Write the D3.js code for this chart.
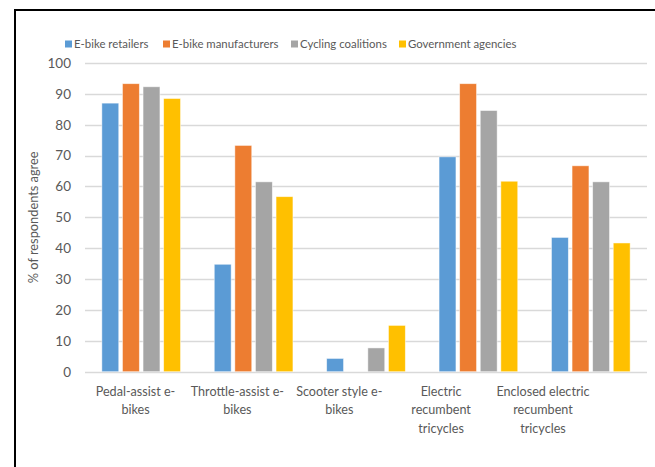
<!DOCTYPE html>
<html>
<head>
<meta charset="utf-8">
<script src="https://cdn.jsdelivr.net/npm/d3@7"></script>
<style>
  html, body { margin: 0; padding: 0; background: #fff; }
  svg { display: block; font-family: Lato, "Open Sans", sans-serif; }
</style>
</head>
<body>
<svg id="chart" width="655" height="467"></svg>
<script>
const categories = [
  ["Pedal-assist e-", "bikes"],
  ["Throttle-assist e-", "bikes"],
  ["Scooter style e-", "bikes"],
  ["Electric", "recumbent", "tricycles"],
  ["Enclosed electric", "recumbent", "tricycles"]
];
const seriesNames = ["E-bike retailers", "E-bike manufacturers", "Cycling coalitions", "Government agencies"];
const seriesColors = ["#5B9BD5", "#ED7D31", "#A5A5A5", "#FFC000"];
const retailers     = [87.0, 34.8, 4.3, 69.6, 43.5];
const manufacturers = [93.3, 73.3, 0.0, 93.3, 66.7];
const coalitions    = [92.3, 61.5, 7.7, 84.6, 61.5];
const government    = [88.5, 56.7, 15.0, 61.7, 41.7];
const yTicks = [0, 10, 20, 30, 40, 50, 60, 70, 80, 90, 100];
const yLabel = "% of respondents agree";

const seriesValues = [retailers, manufacturers, coalitions, government];

const svg = d3.select("#chart");

// Frame
svg.append("path")
  .attr("d", "M15,467 L15,10 L655,10")
  .attr("fill", "none").attr("stroke", "#000").attr("stroke-width", 2);

const plot = { left: 85, right: 647, top: 63, bottom: 371.7 };

const y = d3.scaleLinear().domain([0, 100]).range([plot.bottom, plot.top]);
const x0 = d3.scaleBand().domain(d3.range(categories.length)).range([plot.left, plot.right]).paddingInner(0.3).paddingOuter(0.15);
const x1 = d3.scaleBand().domain(d3.range(seriesNames.length)).range([0, x0.bandwidth()]).paddingInner(0.18);

// Gridlines
svg.append("g").selectAll("line").data(yTicks).join("line")
  .attr("x1", plot.left).attr("x2", plot.right)
  .attr("y1", d => Math.round(y(d)) + 0.5).attr("y2", d => Math.round(y(d)) + 0.5)
  .attr("stroke", "#d9d9d9").attr("stroke-width", 1.3);

// Y axis labels
const yAxis = d3.axisLeft(y).tickValues(yTicks).tickSize(0).tickPadding(0);
const yg = svg.append("g").attr("transform", `translate(71,0)`).call(yAxis);
yg.select(".domain").remove();
yg.selectAll("text").attr("fill", "#595959").style("font-size", "13.5px").style("font-family", "Lato, sans-serif");

// Y title
svg.append("text")
  .attr("transform", `translate(38,${(plot.top + plot.bottom) / 2}) rotate(-90)`)
  .attr("text-anchor", "middle")
  .attr("fill", "#595959")
  .style("font-size", "12.8px")
  .text(yLabel);

// Bars
const groups = svg.append("g").selectAll("g").data(categories).join("g")
  .attr("transform", (d, i) => `translate(${x0(i)},0)`);
groups.selectAll("rect").data((d, i) => seriesValues.map((s, k) => ({ k, v: s[i] }))).join("rect")
  .attr("x", d => x1(d.k))
  .attr("width", x1.bandwidth())
  .attr("y", d => y(d.v))
  .attr("height", d => y(0) - y(d.v))
  .attr("fill", d => seriesColors[d.k])
  .attr("stroke", "#fff").attr("stroke-opacity", 0.6).attr("stroke-width", 0.8)
  .style("display", d => d.v > 0 ? null : "none");

// Category labels (as drawn in the reference, spaced slightly tighter than the bars)
const xl = d3.scalePoint().domain(d3.range(categories.length)).range([135.5, 543]);
const lab = svg.append("g").selectAll("text").data(categories).join("text")
  .attr("x", (d, i) => xl(i))
  .attr("y", 396)
  .attr("text-anchor", "middle")
  .attr("fill", "#595959")
  .style("font-size", "12.6px");
lab.selectAll("tspan").data(d => d).join("tspan")
  .attr("x", function() { return this.parentNode.getAttribute("x"); })
  .attr("dy", (d, j) => j === 0 ? 0 : 18.3)
  .text(d => d);

// Legend
const legendX = [65, 163, 291, 399];
const lg = svg.append("g").selectAll("g").data(seriesNames).join("g")
  .attr("transform", (d, i) => `translate(${legendX[i]},44)`);
lg.append("rect").attr("x", 0).attr("y", -3.5).attr("width", 7).attr("height", 7)
  .attr("fill", (d, i) => seriesColors[i]);
lg.append("text").attr("x", 9).attr("y", 0).attr("dy", "0.35em")
  .attr("fill", "#595959").style("font-size", "11.4px").text(d => d);
</script>
</body>
</html>
